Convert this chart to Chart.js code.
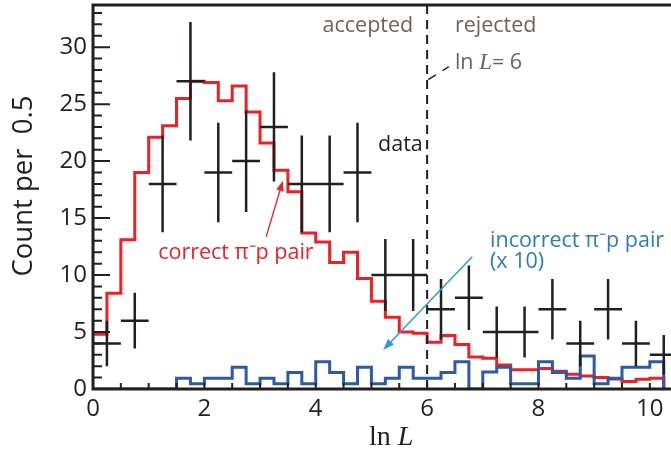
<!DOCTYPE html>
<html lang="en">
<head>
  <meta charset="UTF-8">
  <title>ln L distribution</title>
  <style>
    body { margin: 0; background: #fff; }
    #chart { display: block; }
  </style>
</head>
<body>
  <canvas id="chart" width="671" height="453"></canvas>

  <script src="https://cdn.jsdelivr.net/npm/chart.js"></script>
  <script>
    // MC histograms: bins of 0.25 starting at ln L = 0
    const binWidth = 0.25;
    const correctPair = [
      4.8, 8.4, 13.1, 19.0, 22.1, 23.1, 25.5, 27.0, 26.9, 25.3,
      26.6, 24.3, 21.6, 19.2, 17.3, 13.7, 12.9, 11.1, 12.0, 9.7,
      7.7, 6.3, 5.0, 4.9, 4.1, 4.7, 3.9, 2.8, 2.7, 2.1,
      1.7, 1.7, 1.8, 1.55, 1.3, 1.15, 1.0, 0.88, 0.65, 0.85,
      0.95
    ];
    // incorrect pairs, already multiplied by 10
    const incorrectPair = [
      0, 0, 0, 0, 0, 0, 0.95, 0.45, 0.95, 0.95,
      1.9, 0.45, 0.95, 0.45, 1.45, 0.45, 2.4, 1.45, 0.45, 1.9,
      0.45, 0.95, 1.9, 0.95, 0.95, 1.45, 2.4, 0, 1.5, 1.9,
      0.45, 0.45, 2.4, 1.45, 0.95, 2.9, 0.45, 0.95, 1.9, 1.9,
      2.4
    ];

    // data points, bins of 0.5
    const dataHalfWidth = 0.25;
    const dataX = [0.25, 0.75, 1.25, 1.75, 2.25, 2.75, 3.25, 3.75, 4.25, 4.75,
                   5.25, 5.75, 6.25, 6.75, 7.25, 7.75, 8.25, 8.75, 9.25, 9.75, 10.25];
    const dataCounts = [4, 6, 18, 27, 19, 20, 23, 18, 18, 19,
                        10, 10, 7, 8, 5, 5, 7, 4, 7, 4, 3];
    const dataErrors = [2, 2.45, 4.24, 5.2, 4.36, 4.47, 4.8, 4.24, 4.24, 4.36,
                        3.16, 3.16, 2.65, 2.83, 2.24, 2.24, 2.65, 2, 2.65, 2, 1.73];

    const xTicks = [0, 2, 4, 6, 8, 10];
    const yTicks = [0, 5, 10, 15, 20, 25, 30];

    const ink = '#231f20';
    const red = '#ed2024';
    const blue = '#2b5aa8';
    const note = '#6d635c';
    const sans = "'Open Sans', sans-serif";
    const serif = "'Liberation Serif', serif";

    function stepPoints(values) {
      const pts = values.map((v, i) => ({ x: i * binWidth, y: v }));
      pts.push({ x: values.length * binWidth, y: 0 });
      return pts;
    }

    const hBars = [];
    const vBars = [];
    dataX.forEach((x, i) => {
      const n = dataCounts[i], e = dataErrors[i];
      hBars.push({ x: x - dataHalfWidth, y: n }, { x: x + dataHalfWidth, y: n }, { x: x, y: null });
      vBars.push({ x: x, y: n - e }, { x: x, y: n + e }, { x: x, y: null });
    });

    function arrow(ctx, x0, y0, x1, y1, color, width, head) {
      const ang = Math.atan2(y1 - y0, x1 - x0);
      ctx.strokeStyle = color;
      ctx.fillStyle = color;
      ctx.lineWidth = width;
      ctx.beginPath();
      ctx.moveTo(x0, y0);
      ctx.lineTo(x1 - Math.cos(ang) * head * 0.6, y1 - Math.sin(ang) * head * 0.6);
      ctx.stroke();
      ctx.beginPath();
      ctx.moveTo(x1, y1);
      ctx.lineTo(x1 - head * Math.cos(ang - 0.35), y1 - head * Math.sin(ang - 0.35));
      ctx.lineTo(x1 - head * Math.cos(ang + 0.35), y1 - head * Math.sin(ang + 0.35));
      ctx.closePath();
      ctx.fill();
    }

    // frame, inward ticks, cut line and labels
    const decor = {
      id: 'decor',
      afterDatasetsDraw(chart) {
        const { ctx, chartArea: a, scales: { x, y } } = chart;
        ctx.save();

        // cut at ln L = 6
        const xc = x.getPixelForValue(6);
        ctx.strokeStyle = ink;
        ctx.lineWidth = 2;
        ctx.setLineDash([9, 6]);
        ctx.beginPath();
        ctx.moveTo(xc, a.top);
        ctx.lineTo(xc, a.bottom);
        ctx.stroke();
        ctx.lineWidth = 1.5;
        ctx.setLineDash([9, 8]);
        ctx.beginPath();
        ctx.moveTo(x.getPixelForValue(6.02), y.getPixelForValue(27.15));
        ctx.lineTo(x.getPixelForValue(6.39), y.getPixelForValue(28.3));
        ctx.stroke();
        ctx.setLineDash([]);

        // ticks
        ctx.lineWidth = 2;
        ctx.beginPath();
        for (let v = 1; v <= y.max; v++) {
          const py = y.getPixelForValue(v);
          ctx.moveTo(a.left, py);
          ctx.lineTo(a.left + (v % 5 === 0 ? 17 : 9), py);
        }
        for (let v = 0.5; v <= x.max; v += 0.5) {
          const px = x.getPixelForValue(v);
          ctx.moveTo(px, a.bottom);
          ctx.lineTo(px, a.bottom - 6);
        }
        ctx.stroke();

        // frame (no right edge, the plot is cut off)
        ctx.lineWidth = 3;
        ctx.beginPath();
        ctx.moveTo(a.right, a.top);
        ctx.lineTo(a.left, a.top);
        ctx.lineTo(a.left, a.bottom);
        ctx.lineTo(a.right, a.bottom);
        ctx.stroke();

        // notes
        const noteFont = '21.5px ' + sans;
        ctx.textBaseline = 'middle';
        ctx.font = noteFont;
        ctx.fillStyle = note;
        ctx.textAlign = 'right';
        ctx.fillText('accepted', x.getPixelForValue(5.75), y.getPixelForValue(31.9));
        ctx.textAlign = 'left';
        ctx.fillText('rejected', x.getPixelForValue(6.5), y.getPixelForValue(31.9));

        let tx = x.getPixelForValue(6.5);
        const ty = y.getPixelForValue(28.6);
        ctx.fillText('ln ', tx, ty);
        tx += ctx.measureText('ln ').width;
        ctx.font = 'italic 23px ' + serif;
        ctx.fillText('L', tx, ty);
        tx += ctx.measureText('L').width;
        ctx.font = noteFont;
        ctx.fillText('= 6', tx, ty);

        ctx.fillStyle = ink;
        ctx.fillText('data', x.getPixelForValue(5.12), y.getPixelForValue(21.4));

        ctx.fillStyle = red;
        ctx.fillText('correct \u03c0\u207bp pair', x.getPixelForValue(1.17), y.getPixelForValue(11.95));
        arrow(ctx, x.getPixelForValue(3.11), y.getPixelForValue(13.36),
              x.getPixelForValue(3.41), y.getPixelForValue(18.28), red, 1.3, 11);

        ctx.fillStyle = '#2b7bbd';
        ctx.fillText('incorrect \u03c0\u207bp pair', x.getPixelForValue(7.13), y.getPixelForValue(13.0));
        ctx.fillText('(x 10)', x.getPixelForValue(7.13), y.getPixelForValue(11.16));
        arrow(ctx, x.getPixelForValue(6.81), y.getPixelForValue(11.6),
              x.getPixelForValue(5.21), y.getPixelForValue(3.43), '#2a9fd6', 1.5, 12);

        // axis titles
        ctx.fillStyle = ink;
        ctx.font = '28px ' + serif;
        let lx = 369;
        ctx.textAlign = 'left';
        ctx.textBaseline = 'alphabetic';
        ctx.fillText('ln ', lx, 445);
        lx += ctx.measureText('ln ').width;
        ctx.font = 'italic 28px ' + serif;
        ctx.fillText('L', lx, 445);

        ctx.translate(24, 186);
        ctx.rotate(-Math.PI / 2);
        ctx.textAlign = 'center';
        ctx.textBaseline = 'middle';
        ctx.font = '27.5px ' + sans;
        ctx.fillText('Count per  0.5', 0, 0);

        ctx.restore();
      }
    };

    Chart.defaults.color = ink;
    Chart.defaults.font.family = sans;

    new Chart(document.getElementById('chart'), {
      type: 'line',
      data: {
        datasets: [
          { data: hBars, borderColor: ink, borderWidth: 2.5 },
          { data: vBars, borderColor: ink, borderWidth: 2.5 },
          { data: stepPoints(incorrectPair), borderColor: blue, borderWidth: 3, stepped: true },
          { data: stepPoints(correctPair), borderColor: red, borderWidth: 3, stepped: true }
        ]
      },
      options: {
        responsive: false,
        animation: false,
        spanGaps: false,
        elements: { point: { radius: 0 }, line: { tension: 0, fill: false } },
        layout: { padding: { top: 5, right: 0, left: 0, bottom: 0 } },
        plugins: { legend: { display: false }, tooltip: { enabled: false } },
        scales: {
          x: {
            type: 'linear', min: 0, max: 10.38,
            grid: { display: false, drawTicks: false }, border: { display: false },
            afterBuildTicks: s => { s.ticks = xTicks.map(v => ({ value: v })); },
            afterFit: s => { s.height = 64; s.paddingLeft = 0; s.paddingRight = 0; },
            ticks: { font: { size: 24 }, padding: 6, maxRotation: 0, autoSkip: false }
          },
          y: {
            min: 0, max: 33.7,
            grid: { display: false, drawTicks: false }, border: { display: false },
            afterBuildTicks: s => { s.ticks = yTicks.map(v => ({ value: v })); },
            afterFit: s => { s.width = 93; s.paddingTop = 0; s.paddingBottom = 0; },
            ticks: { font: { size: 24 }, padding: 6 }
          }
        }
      },
      plugins: [decor]
    });
  </script>
</body>
</html>
